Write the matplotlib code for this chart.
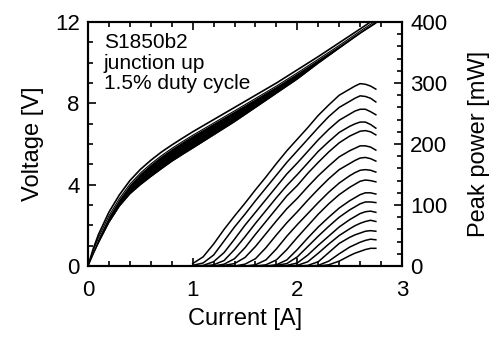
import numpy as np
import matplotlib
matplotlib.use("Agg")
import matplotlib.pyplot as plt
from matplotlib.ticker import MultipleLocator

plt.rcParams['font.family'] = ['Liberation Sans', 'DejaVu Sans']
plt.rcParams['font.size'] = 16

# voltage band (current in A, voltage in V)
i_v = [0, 0.05, 0.1, 0.2, 0.3, 0.4, 0.5, 0.6, 0.7, 0.8, 0.9, 1.0, 1.2, 1.4, 1.6, 1.8, 2.0, 2.2, 2.4, 2.6, 2.75]
v_top = [0, 0.85, 1.55, 2.65, 3.5, 4.2, 4.75, 5.2, 5.6, 5.95, 6.28, 6.6, 7.2, 7.8, 8.4, 9.0, 9.65, 10.3, 10.98, 11.66, 12.18]
v_hi = [0, 0.74, 1.4, 2.47, 3.32, 4.02, 4.57, 5.02, 5.42, 5.78, 6.11, 6.43, 7.03, 7.63, 8.24, 8.85, 9.5, 10.17, 10.85, 11.55, 12.06]
v_lo = [0, 0.6, 1.15, 2.15, 2.95, 3.55, 4.0, 4.4, 4.78, 5.15, 5.48, 5.8, 6.45, 7.1, 7.8, 8.5, 9.2, 9.98, 10.72, 11.45, 11.95]

# peak power curves (mW)
i_p = [1.0, 1.1, 1.2, 1.3, 1.4, 1.5, 1.6, 1.7, 1.8, 1.9, 2.0, 2.1, 2.2, 2.3, 2.4, 2.5, 2.55, 2.6, 2.65, 2.7, 2.75]
p1 = [4, 15, 36, 60, 82, 103, 125, 146, 168, 189, 208, 227, 247, 264, 280, 290, 295, 299, 298, 295, 290]
p2 = [1, 5, 18, 41, 64, 85, 107, 128, 149, 170, 189, 208, 227, 245, 260, 270, 275, 279, 278, 275, 269]
p3 = [0, 1, 7, 22, 44, 67, 88, 109, 130, 151, 169, 188, 207, 224, 239, 249, 254, 257, 257, 253, 248]
p4 = [0, 0, 2, 9, 27, 48, 70, 91, 112, 132, 150, 169, 188, 204, 219, 229, 233, 236, 236, 232, 226]
p5 = [0, 0, 0, 3, 12, 30, 52, 73, 94, 115, 132, 152, 170, 187, 202, 213, 217, 221, 222, 220, 215]
p6 = [0, 0, 0, 1, 4, 14, 32, 53, 74, 94, 111, 130, 148, 164, 179, 189, 193, 197, 197, 195, 190]
p7 = [0, 0, 0, 0, 0, 3, 12, 30, 51, 71, 89, 108, 126, 143, 158, 168, 173, 177, 178, 176, 172]
p8 = [0, 0, 0, 0, 0, 0, 2, 10, 28, 49, 68, 86, 104, 121, 136, 148, 153, 157, 158, 157, 154]
p9 = [0, 0, 0, 0, 0, 0, 0, 2, 10, 27, 47, 66, 85, 102, 117, 129, 134, 139, 141, 140, 138]
p10 = [0, 0, 0, 0, 0, 0, 0, 0, 2, 10, 27, 46, 64, 80, 95, 107, 112, 117, 120, 120, 118]
p11 = [0, 0, 0, 0, 0, 0, 0, 0, 1, 4, 15, 32, 49, 65, 80, 92, 97, 102, 105, 105, 104]
p12 = [0, 0, 0, 0, 0, 0, 0, 0, 0, 1, 5, 18, 34, 49, 64, 76, 81, 86, 89, 90, 88]
p13 = [0, 0, 0, 0, 0, 0, 0, 0, 0, 0, 1, 7, 21, 36, 50, 61, 66, 70, 73, 75, 73]
p14 = [0, 0, 0, 0, 0, 0, 0, 0, 0, 0, 0, 1, 7, 22, 37, 47, 51, 54, 57, 58, 57]
p15 = [0, 0, 0, 0, 0, 0, 0, 0, 0, 0, 0, 0, 1, 8, 20, 31, 35, 39, 42, 44, 43]
p16 = [0, 0, 0, 0, 0, 0, 0, 0, 0, 0, 0, 0, 0, 2, 8, 17, 21, 24, 27, 29, 29]
powers = [p1, p2, p3, p4, p5, p6, p7, p8, p9, p10, p11, p12, p13, p14, p15, p16]

fig = plt.figure(figsize=(4.96, 3.39), dpi=100)
ax = fig.add_axes([0.1774, 0.2153, 0.6331, 0.7197])
ax2 = ax.twinx()

ax.plot(i_v, v_top, color="black", lw=1.2)
ax.fill_between(i_v, v_lo, v_hi, color="black", lw=0)
ax.plot(i_v, v_hi, color="black", lw=0.8)
ax.plot(i_v, v_lo, color="black", lw=0.8)

for p in powers:
    ax2.plot(i_p, p, color="black", lw=1.1)

ax.set_xlim(0, 3)
ax.set_ylim(0, 12)
ax2.set_ylim(0, 400)

ax.xaxis.set_major_locator(MultipleLocator(1))
ax.xaxis.set_minor_locator(MultipleLocator(0.2))
ax.yaxis.set_major_locator(MultipleLocator(4))
ax.yaxis.set_minor_locator(MultipleLocator(1))
ax2.yaxis.set_major_locator(MultipleLocator(100))
ax2.yaxis.set_minor_locator(MultipleLocator(20))

ax.tick_params(which="both", direction="in", top=True, right=False, width=1.2)
ax.tick_params(which="major", length=6, pad=6)
ax.tick_params(axis="x", which="major", pad=10)
ax.tick_params(which="minor", length=3.5)
ax2.tick_params(which="both", direction="in", width=1.2)
ax2.tick_params(which="major", length=6, pad=6)
ax2.tick_params(which="minor", length=3.5)

for a in (ax, ax2):
    for s in a.spines.values():
        s.set_linewidth(1.5)

ax.set_xlabel("Current [A]", fontsize=17, labelpad=5)
ax.set_ylabel("Voltage [V]", fontsize=17, labelpad=8)
ax2.set_ylabel("Peak power [mW]", fontsize=17, labelpad=15)

ax.text(0.05, 0.955, "S1850b2\njunction up\n1.5% duty cycle", transform=ax.transAxes,
        ha="left", va="top", fontsize=15, linespacing=1.1)

fig.savefig("out.png", dpi=100)
